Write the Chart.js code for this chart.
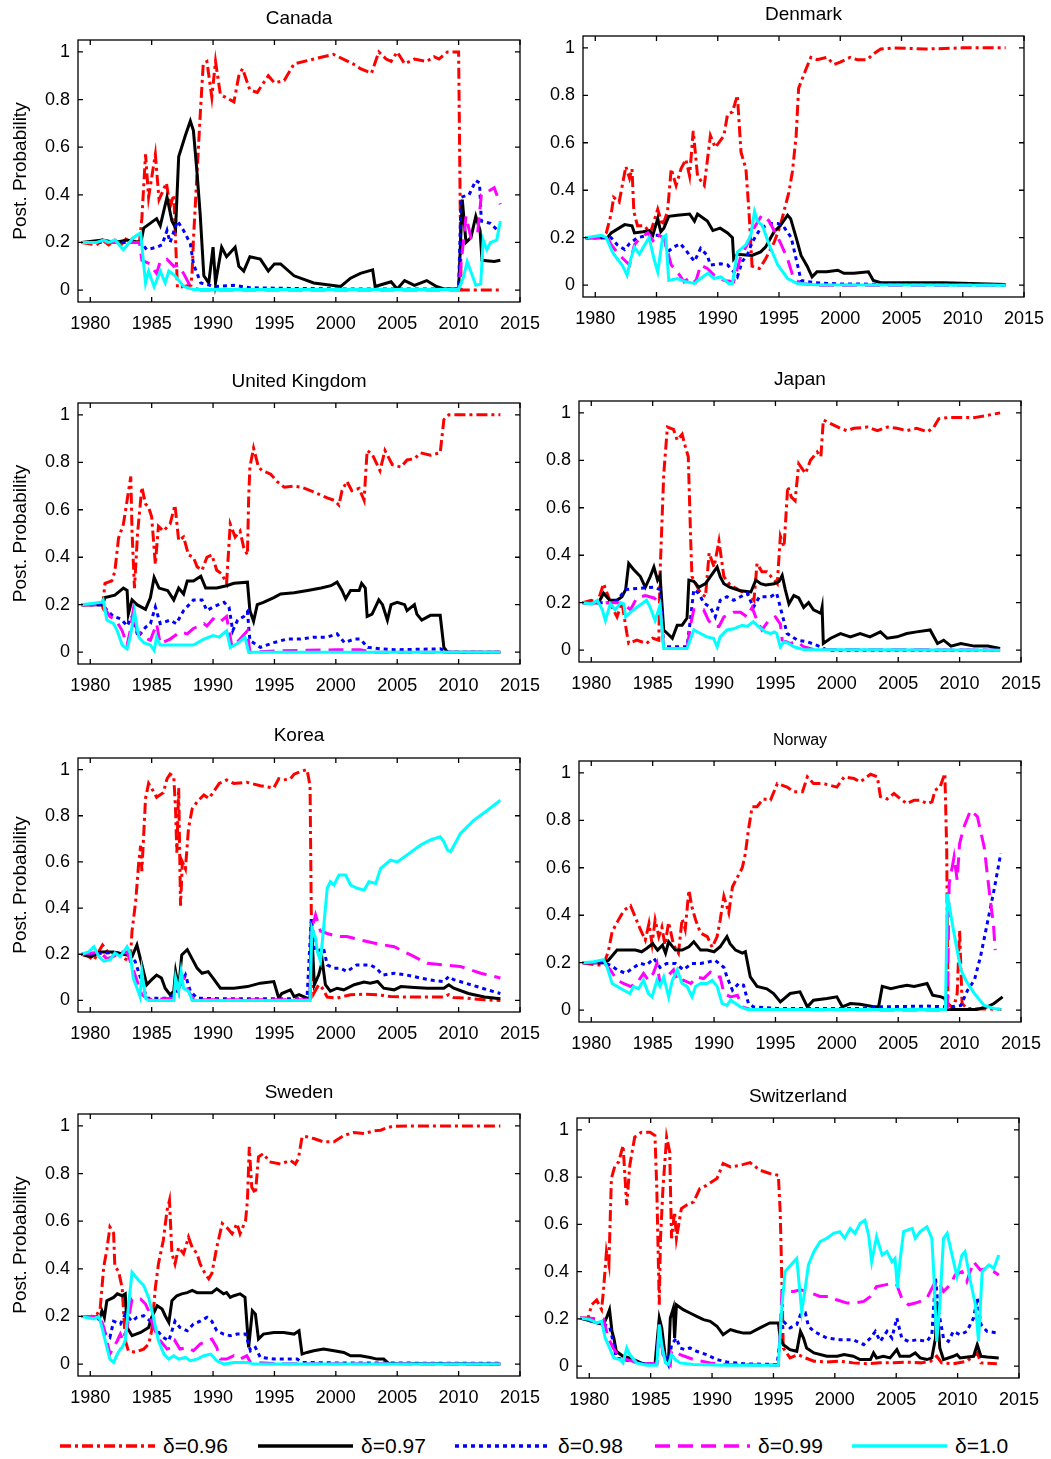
<!DOCTYPE html>
<html>
<head>
<meta charset="utf-8">
<script src="https://cdn.jsdelivr.net/npm/chart.js@4.4.1/dist/chart.umd.min.js"></script>
<style>
  body { margin: 0; background: #fff; width: 1051px; height: 1459px; position: relative; overflow: hidden;
         font-family: "Liberation Sans", Arial, sans-serif; }
  canvas.panel { position: absolute; }
  .leg { position: absolute; top: 1434px; height: 24px; display: flex; align-items: center; }
  .leg svg { margin-right: 8px; }
  .leg span { font-size: 21px; color: #000; }
</style>
</head>
<body>
<script>
// ---- axis ticks and series labels ----
var YEAR_TICKS = [1980, 1985, 1990, 1995, 2000, 2005, 2010, 2015];
var PROB_TICKS = [0, 0.2, 0.4, 0.6, 0.8, 1];
var DELTAS = ['δ=0.96', 'δ=0.97', 'δ=0.98', 'δ=0.99', 'δ=1.0'];

// ---- series, [year, posterior probability] ----
var canada96 = [[1979.3,0.2],[1980.5,0.19],[1981,0.21],[1981.5,0.19],[1982,0.21],[1982.5,0.19],[1983,0.22],[1983.5,0.21],[1984,0.2],[1984.2,0.3],[1984.5,0.57],[1984.75,0.39],[1985.3,0.57],[1985.6,0.38],[1986.2,0.45],[1986.5,0.35],[1986.8,0.4],[1987.1,0.01],[1988.2,0.02],[1988.3,0.08],[1988.4,0.21],[1988.97,0.75],[1989.2,0.95],[1989.5,0.96],[1989.9,0.81],[1990.2,0.96],[1990.6,0.82],[1991,0.81],[1991.7,0.79],[1992.1,0.9],[1992.4,0.93],[1993,0.84],[1993.6,0.83],[1994.5,0.9],[1995,0.87],[1995.8,0.88],[1996.6,0.95],[1998.2,0.97],[1999.8,0.99],[2000.6,0.97],[2001.4,0.95],[2002,0.93],[2002.9,0.91],[2003.5,1.0],[2004.1,0.97],[2004.5,0.96],[2005,1.0],[2005.6,0.95],[2006.4,0.97],[2007.4,0.96],[2008,0.98],[2008.4,0.97],[2009.1,1.0],[2010,1.0],[2010.2,0],[2013.4,0]];
var canada97 = [[1979.3,0.2],[1981,0.21],[1982,0.2],[1983,0.21],[1984,0.2],[1984.1,0.195],[1984.35,0.26],[1985.4,0.3],[1985.7,0.27],[1986.25,0.39],[1986.65,0.29],[1986.95,0.26],[1987.2,0.56],[1987.75,0.65],[1988.15,0.71],[1988.4,0.67],[1988.7,0.49],[1988.95,0.32],[1989.25,0.06],[1989.65,0.03],[1990,0.18],[1990.2,0.03],[1990.7,0.18],[1991.1,0.14],[1991.8,0.18],[1992.1,0.1],[1992.5,0.08],[1993,0.14],[1993.85,0.13],[1994.5,0.08],[1995,0.11],[1995.5,0.11],[1996.6,0.06],[1998.2,0.03],[2000.4,0.015],[2001.2,0.05],[2002,0.07],[2003,0.085],[2003.2,0.015],[2004.5,0.035],[2005,0.005],[2005.6,0.04],[2006.4,0.02],[2007.4,0.04],[2008.2,0.015],[2008.8,0.005],[2010,0.005],[2010.3,0.38],[2010.6,0.2],[2011,0.22],[2011.4,0.31],[2011.75,0.25],[2011.9,0.125],[2012.9,0.12],[2013.4,0.125]];
var canada98 = [[1979.3,0.2],[1984,0.2],[1984.2,0.195],[1984.6,0.17],[1985.4,0.18],[1985.85,0.19],[1986.25,0.25],[1986.5,0.2],[1987.1,0.29],[1987.6,0.25],[1988.15,0.195],[1988.4,0.11],[1989,0.03],[1990.1,0.015],[1991.7,0.02],[1993,0.01],[1995,0.008],[2000,0.005],[2010,0.005],[2010.2,0.39],[2010.85,0.4],[2011.4,0.46],[2011.7,0.45],[2011.85,0.29],[2012.6,0.28],[2013.2,0.25]];
var canada99 = [[1979.3,0.2],[1984,0.2],[1984.2,0.125],[1984.85,0.11],[1985.4,0.07],[1985.7,0.12],[1986.25,0.13],[1986.8,0.1],[1987.2,0.105],[1987.6,0.07],[1988.15,0.015],[1989,0],[2010,0],[2010.2,0.11],[2010.6,0.31],[2011,0.22],[2011.55,0.24],[2011.85,0.4],[2012.6,0.42],[2012.9,0.43],[2013.4,0.36]];
var canada100 = [[1979.3,0.2],[1980.5,0.2],[1981.1,0.21],[1981.5,0.2],[1982,0.21],[1982.7,0.17],[1983.5,0.22],[1984.1,0.24],[1984.5,0.03],[1984.75,0.08],[1985.2,0.014],[1985.7,0.08],[1986.1,0.03],[1986.4,0.08],[1986.9,0.06],[1987.6,0.015],[1988.4,0.003],[2010,0.003],[2010.4,0.055],[2010.7,0.12],[2011.4,0.02],[2011.8,0.025],[2012,0.21],[2012.3,0.17],[2012.6,0.2],[2013.1,0.21],[2013.4,0.29]];

var denmark96 = [[1979.2,0.2],[1980.5,0.2],[1980.9,0.22],[1981.3,0.3],[1981.5,0.37],[1981.95,0.35],[1982.5,0.5],[1982.8,0.45],[1983,0.49],[1983.15,0.31],[1983.45,0.25],[1984,0.25],[1984.5,0.22],[1985.1,0.32],[1985.5,0.25],[1985.9,0.31],[1986.2,0.49],[1986.6,0.42],[1987,0.49],[1987.4,0.53],[1987.7,0.46],[1988,0.65],[1988.35,0.46],[1988.9,0.42],[1989.4,0.63],[1989.8,0.58],[1990.5,0.63],[1990.8,0.72],[1991.2,0.73],[1991.6,0.8],[1991.9,0.56],[1992.3,0.49],[1992.55,0.31],[1992.8,0.08],[1993.4,0.07],[1993.9,0.11],[1994.6,0.18],[1995.1,0.25],[1995.8,0.39],[1996.1,0.48],[1996.4,0.63],[1996.6,0.83],[1997.2,0.91],[1997.6,0.96],[1998.1,0.95],[1998.9,0.96],[1999.5,0.93],[2000,0.94],[2000.8,0.96],[2001.4,0.95],[2002.2,0.95],[2002.6,0.97],[2003.3,0.995],[2004.4,1.0],[2007,0.995],[2010,1.0],[2013.5,1.0]];
var denmark97 = [[1979.2,0.2],[1981,0.2],[1981.3,0.22],[1982.4,0.255],[1983,0.25],[1983.2,0.22],[1983.9,0.225],[1984.4,0.23],[1984.7,0.21],[1985.1,0.28],[1985.35,0.225],[1985.6,0.24],[1986,0.29],[1986.7,0.295],[1987.7,0.3],[1988.1,0.27],[1988.35,0.3],[1989.15,0.27],[1989.6,0.23],[1990.2,0.24],[1990.8,0.22],[1991.2,0.2],[1991.3,0.11],[1991.6,0.13],[1992.8,0.125],[1993.5,0.14],[1993.9,0.16],[1994.6,0.225],[1995.1,0.25],[1995.7,0.295],[1995.95,0.28],[1996.4,0.2],[1996.8,0.125],[1997.3,0.08],[1997.7,0.035],[1998.1,0.056],[1998.9,0.056],[1999.8,0.063],[2000.3,0.05],[2001.1,0.05],[2002.3,0.056],[2002.7,0.02],[2003.3,0.01],[2008.5,0.01],[2013.5,0.003]];
var denmark98 = [[1979.2,0.2],[1981,0.2],[1981.3,0.2],[1981.8,0.17],[1982.4,0.15],[1982.8,0.175],[1983.45,0.2],[1984.3,0.21],[1985.1,0.21],[1985.6,0.2],[1985.9,0.14],[1986.4,0.16],[1986.95,0.175],[1987.5,0.14],[1988.1,0.1],[1988.6,0.155],[1989.15,0.125],[1989.4,0.085],[1990.25,0.09],[1990.8,0.085],[1991.3,0.056],[1991.6,0.035],[1992,0.1],[1992.4,0.125],[1992.8,0.18],[1993.5,0.24],[1994.3,0.26],[1994.9,0.26],[1995.4,0.245],[1996,0.2],[1996.4,0.11],[1996.8,0.02],[1997.9,0.01],[2000,0.005],[2013.5,0]];
var denmark99 = [[1979.2,0.2],[1981,0.2],[1981.3,0.17],[1982,0.125],[1982.4,0.105],[1982.8,0.085],[1983.2,0.17],[1983.7,0.2],[1984.3,0.22],[1984.8,0.18],[1985.2,0.21],[1985.6,0.2],[1986.2,0.085],[1986.7,0.056],[1987.25,0.014],[1987.8,0.035],[1988.2,0.014],[1988.6,0.085],[1989.15,0.07],[1989.7,0.042],[1990.5,0.02],[1991.3,0.014],[1991.9,0.125],[1992.4,0.17],[1992.95,0.24],[1993.6,0.295],[1994.2,0.27],[1995.1,0.18],[1995.7,0.11],[1996.2,0.028],[1996.8,0.007],[1998,0],[2013.5,0]];
var denmark100 = [[1979.2,0.2],[1980.5,0.21],[1980.9,0.2],[1981.4,0.14],[1981.8,0.11],[1982.2,0.085],[1982.6,0.042],[1982.9,0.11],[1983.2,0.16],[1983.6,0.13],[1984.1,0.175],[1984.4,0.2],[1984.8,0.11],[1985.1,0.056],[1985.5,0.2],[1985.75,0.21],[1986,0.02],[1986.7,0.028],[1987.4,0.014],[1988.1,0.007],[1988.6,0.028],[1989.2,0.05],[1989.7,0.028],[1990.25,0.035],[1990.9,0.007],[1991.2,0.007],[1991.6,0.14],[1992.3,0.17],[1992.7,0.21],[1993,0.31],[1993.25,0.27],[1993.65,0.25],[1994.2,0.17],[1994.9,0.085],[1995.7,0.028],[1996.5,0.007],[1998,0.002],[2013.5,0]];

var uk96 = [[1979.3,0.2],[1980.9,0.2],[1981,0.19],[1981.2,0.29],[1981.75,0.3],[1982,0.34],[1982.3,0.48],[1982.7,0.54],[1983,0.64],[1983.3,0.74],[1983.4,0.51],[1983.6,0.27],[1983.85,0.5],[1984.2,0.695],[1984.5,0.625],[1984.75,0.61],[1985,0.57],[1985.3,0.37],[1985.55,0.53],[1985.95,0.51],[1986.5,0.54],[1986.9,0.62],[1987.2,0.47],[1987.6,0.485],[1988,0.41],[1988.4,0.4],[1988.7,0.36],[1989.1,0.345],[1989.5,0.4],[1989.9,0.41],[1990.3,0.345],[1990.7,0.33],[1991.1,0.29],[1991.4,0.54],[1991.8,0.485],[1992.2,0.51],[1992.5,0.44],[1992.8,0.41],[1992.9,0.65],[1993,0.78],[1993.3,0.86],[1993.7,0.78],[1994,0.765],[1994.7,0.75],[1995.2,0.72],[1995.8,0.695],[1996.6,0.7],[1997.2,0.695],[1998.2,0.675],[1999.3,0.65],[1999.85,0.64],[2000.25,0.62],[2000.5,0.68],[2000.9,0.72],[2001.3,0.68],[2001.9,0.69],[2002.3,0.64],[2002.55,0.85],[2002.95,0.835],[2003.6,0.765],[2004,0.85],[2004.6,0.79],[2005.3,0.78],[2005.8,0.81],[2006.4,0.815],[2006.9,0.84],[2007.7,0.83],[2008.5,0.84],[2008.8,0.98],[2009.2,1.0],[2013.4,1.0]];
var uk97 = [[1979.3,0.2],[1981,0.2],[1981.2,0.23],[1982,0.24],[1982.7,0.27],[1983,0.26],[1983.1,0.16],[1983.4,0.22],[1983.8,0.2],[1984.5,0.18],[1984.9,0.23],[1985.2,0.315],[1985.6,0.27],[1986.3,0.26],[1986.8,0.22],[1987.2,0.27],[1987.6,0.245],[1987.9,0.3],[1988.4,0.3],[1989,0.32],[1989.4,0.27],[1990.3,0.27],[1991.1,0.28],[1991.7,0.29],[1992.8,0.295],[1993,0.175],[1993.3,0.13],[1993.6,0.2],[1994.1,0.21],[1994.95,0.23],[1995.5,0.245],[1996.6,0.25],[1997.7,0.26],[1998.8,0.27],[1999.6,0.28],[2000.1,0.295],[2000.5,0.26],[2000.8,0.225],[2001.2,0.26],[2001.9,0.26],[2002.1,0.29],[2002.4,0.27],[2002.55,0.15],[2002.95,0.16],[2003.5,0.22],[2003.8,0.2],[2004.2,0.135],[2004.5,0.2],[2005,0.21],[2005.6,0.2],[2005.8,0.175],[2006.4,0.2],[2006.6,0.16],[2007,0.135],[2007.7,0.155],[2008.5,0.155],[2008.8,0.02],[2009.1,0],[2013.4,0]];
var uk98 = [[1979.3,0.2],[1981,0.2],[1981.4,0.175],[1981.9,0.15],[1982.5,0.14],[1983,0.11],[1983.4,0.15],[1983.9,0.065],[1984.5,0.105],[1984.9,0.12],[1985.3,0.19],[1985.7,0.12],[1986.5,0.135],[1987,0.12],[1987.6,0.175],[1988.4,0.22],[1989.1,0.22],[1989.5,0.175],[1990,0.19],[1990.9,0.21],[1991.3,0.19],[1991.6,0.09],[1992,0.135],[1992.5,0.15],[1992.8,0.17],[1993,0.05],[1993.85,0.02],[1994.95,0.04],[1996,0.055],[1997.1,0.055],[1998.2,0.063],[1999.3,0.063],[2000.1,0.077],[2000.7,0.04],[2001.5,0.055],[2002,0.055],[2002.6,0.02],[2003.7,0.014],[2004.8,0.01],[2008.5,0.014],[2009.1,0],[2013.4,0]];
var uk99 = [[1979.3,0.2],[1981,0.2],[1981.6,0.15],[1982.1,0.135],[1982.6,0.09],[1983,0.03],[1983.25,0.09],[1983.5,0.175],[1983.8,0.09],[1984.35,0.063],[1984.9,0.05],[1985.4,0.12],[1985.7,0.035],[1986.5,0.055],[1987.3,0.085],[1987.9,0.077],[1988.4,0.1],[1989.25,0.12],[1989.5,0.11],[1990,0.14],[1990.5,0.125],[1991.1,0.15],[1991.55,0.02],[1992.2,0.055],[1992.8,0.09],[1993,0],[1995,0.005],[2000,0.01],[2002,0.01],[2003,0],[2013.4,0]];
var uk100 = [[1979.3,0.2],[1980.9,0.21],[1981.05,0.22],[1981.35,0.135],[1981.9,0.12],[1982.2,0.09],[1982.6,0.03],[1983,0.014],[1983.25,0.063],[1983.6,0.17],[1983.95,0.063],[1984.35,0.04],[1984.9,0.03],[1985.2,0.007],[1985.4,0.063],[1985.7,0.03],[1987,0.03],[1988.4,0.03],[1989.25,0.055],[1990,0.07],[1990.5,0.063],[1991.1,0.09],[1991.4,0.02],[1991.95,0.035],[1992.6,0.063],[1992.9,0],[2013.4,0]];

var japan96 = [[1979.3,0.2],[1980,0.21],[1980.5,0.2],[1981,0.28],[1981.4,0.225],[1981.7,0.18],[1982.1,0.14],[1982.5,0.2],[1982.9,0.07],[1983.05,0.028],[1983.7,0.042],[1984.5,0.028],[1985,0.05],[1985.5,0.042],[1985.6,0.32],[1985.9,0.74],[1986.2,0.94],[1986.7,0.93],[1987,0.885],[1987.4,0.91],[1987.65,0.86],[1987.9,0.815],[1988.1,0.46],[1988.2,0.31],[1988.9,0.24],[1989.3,0.225],[1989.6,0.41],[1990,0.35],[1990.4,0.46],[1990.8,0.31],[1991.3,0.275],[1992.15,0.25],[1993,0.23],[1993.25,0.21],[1993.5,0.365],[1993.9,0.33],[1994.3,0.33],[1994.9,0.295],[1995.15,0.28],[1995.4,0.48],[1995.7,0.435],[1996,0.69],[1996.3,0.645],[1996.6,0.63],[1996.9,0.785],[1997.45,0.745],[1997.85,0.8],[1998.4,0.835],[1998.7,0.815],[1998.9,0.97],[1999.5,0.955],[2000.3,0.935],[2000.8,0.925],[2001.4,0.935],[2002.5,0.94],[2003.3,0.925],[2004.1,0.94],[2004.9,0.935],[2005.7,0.925],[2006.5,0.935],[2007.4,0.92],[2007.9,0.94],[2008.3,0.975],[2009,0.98],[2010.1,0.98],[2011.2,0.98],[2012.3,0.99],[2013.3,1.0]];
var japan97 = [[1979.3,0.2],[1980.6,0.2],[1981,0.24],[1981.5,0.21],[1982.1,0.21],[1982.5,0.225],[1982.8,0.255],[1983.05,0.365],[1983.45,0.34],[1984,0.31],[1984.4,0.265],[1984.8,0.31],[1985.1,0.35],[1985.4,0.295],[1985.6,0.315],[1985.9,0.085],[1986.2,0.07],[1986.6,0.05],[1987,0.105],[1987.4,0.105],[1987.8,0.135],[1987.95,0.295],[1988.35,0.29],[1988.75,0.265],[1989.3,0.28],[1989.7,0.31],[1990.25,0.35],[1990.5,0.31],[1990.8,0.28],[1991.3,0.265],[1992.15,0.25],[1993,0.245],[1993.4,0.295],[1993.8,0.28],[1994.2,0.275],[1994.9,0.28],[1995.3,0.29],[1995.55,0.315],[1995.8,0.255],[1996.1,0.195],[1996.5,0.23],[1996.9,0.22],[1997.3,0.18],[1997.7,0.2],[1998.1,0.17],[1998.7,0.155],[1998.8,0.18],[1998.9,0.028],[1999.5,0.05],[2000.3,0.07],[2001.1,0.056],[2001.9,0.07],[2002.7,0.056],[2003.55,0.077],[2004.1,0.05],[2004.9,0.056],[2005.7,0.07],[2006.5,0.077],[2007.6,0.085],[2008.2,0.028],[2008.7,0.042],[2009.3,0.017],[2010.1,0.028],[2011.2,0.017],[2012.3,0.017],[2013.3,0.007]];
var japan98 = [[1979.3,0.2],[1981.5,0.2],[1982.1,0.21],[1982.8,0.255],[1983.7,0.26],[1985.1,0.265],[1985.6,0.255],[1985.9,0.014],[1987.8,0.014],[1988.1,0.14],[1988.35,0.255],[1988.75,0.24],[1989.15,0.2],[1989.7,0.18],[1990.1,0.14],[1990.5,0.21],[1991.05,0.225],[1991.6,0.21],[1992.15,0.225],[1992.7,0.24],[1993.2,0.18],[1993.7,0.225],[1994.6,0.225],[1995.1,0.24],[1995.4,0.18],[1995.95,0.07],[1996.8,0.042],[1997.6,0.035],[1998.7,0.014],[1999.2,0],[2013.3,0]];
var japan99 = [[1979.3,0.2],[1981.5,0.2],[1982.1,0.2],[1982.6,0.195],[1983.2,0.17],[1983.7,0.22],[1984.4,0.23],[1985.1,0.22],[1985.6,0.2],[1985.9,0.007],[1987.8,0.007],[1988.1,0.11],[1988.35,0.17],[1989.15,0.17],[1989.55,0.125],[1990,0.1],[1990.4,0.1],[1990.8,0.14],[1991.6,0.16],[1992.15,0.16],[1992.7,0.14],[1993.1,0.18],[1993.5,0.125],[1993.9,0.085],[1994.45,0.125],[1995,0.14],[1995.4,0.11],[1995.55,0.042],[1996.2,0.028],[1996.8,0.035],[1997.3,0.014],[1998.1,0.003],[2013.3,0]];
var japan100 = [[1979.3,0.2],[1980.05,0.195],[1980.5,0.21],[1980.9,0.17],[1981.15,0.125],[1981.55,0.195],[1981.95,0.17],[1982.4,0.2],[1982.65,0.195],[1982.8,0.14],[1983.2,0.16],[1983.7,0.18],[1984.5,0.21],[1984.8,0.18],[1985.2,0.125],[1985.6,0.19],[1985.9,0.007],[1987.8,0.007],[1988.1,0.05],[1988.35,0.085],[1988.9,0.07],[1989.4,0.056],[1989.95,0.05],[1990.25,0.014],[1990.5,0.056],[1991.05,0.085],[1991.6,0.09],[1992.3,0.105],[1992.7,0.1],[1993.2,0.12],[1993.6,0.1],[1994.2,0.077],[1994.6,0.07],[1994.9,0.077],[1995.1,0.07],[1995.4,0.014],[1995.7,0.035],[1996.1,0.028],[1996.5,0.014],[1997.3,0.003],[2013.3,0]];

var korea96 = [[1979.3,0.2],[1979.85,0.19],[1980.3,0.175],[1981,0.24],[1981.5,0.205],[1982.3,0.205],[1982.85,0.18],[1983.25,0.17],[1983.4,0.3],[1983.7,0.43],[1983.95,0.6],[1984.1,0.67],[1984.2,0.56],[1984.5,0.875],[1984.75,0.94],[1985.2,0.9],[1985.4,0.88],[1985.95,0.9],[1986.25,0.96],[1986.5,0.98],[1986.8,0.97],[1986.95,0.82],[1987.05,0.64],[1987.2,0.92],[1987.35,0.41],[1987.5,0.6],[1987.75,0.57],[1988,0.745],[1988.3,0.83],[1988.7,0.86],[1989.25,0.89],[1989.65,0.875],[1990,0.9],[1990.5,0.94],[1991.1,0.955],[1991.7,0.94],[1992.75,0.945],[1993.85,0.93],[1994.95,0.92],[1995.35,0.96],[1995.75,0.955],[1996.3,0.96],[1996.6,0.98],[1997.1,0.99],[1997.65,1.0],[1997.9,0.93],[1998,0.385],[1998.2,0.03],[1998.6,0.068],[1998.9,0.053],[1999.3,0.015],[2000.1,0.01],[2001.2,0.025],[2002.3,0.027],[2003.4,0.025],[2004.45,0.017],[2005.5,0.015],[2008.8,0.015],[2009.2,0.025],[2009.6,0.013],[2010.7,0.01],[2012,0.003],[2013.4,0]];
var korea97 = [[1979.3,0.2],[1980.1,0.19],[1980.8,0.21],[1981.9,0.21],[1983,0.197],[1983.4,0.19],[1983.8,0.24],[1984.2,0.155],[1984.6,0.068],[1985,0.09],[1985.4,0.11],[1985.8,0.097],[1986.1,0.053],[1986.5,0.025],[1986.8,0.04],[1986.95,0.125],[1987.2,0.053],[1987.45,0.197],[1987.9,0.22],[1988.3,0.18],[1988.7,0.14],[1989.1,0.118],[1989.6,0.125],[1990,0.097],[1990.6,0.053],[1991.7,0.053],[1992.8,0.06],[1993.85,0.075],[1994.95,0.082],[1995.35,0.01],[1995.6,0.03],[1996.3,0.046],[1996.6,0.017],[1997,0.025],[1997.65,0.01],[1997.9,0.01],[1998,0.34],[1998.25,0.068],[1998.6,0.11],[1998.9,0.17],[1999.15,0.068],[1999.55,0.04],[2000.1,0.053],[2000.65,0.046],[2001.5,0.068],[2002.3,0.08],[2002.8,0.075],[2003.4,0.082],[2003.9,0.053],[2004.75,0.046],[2005.3,0.06],[2006.4,0.056],[2007.45,0.053],[2008.8,0.053],[2009.2,0.068],[2009.6,0.053],[2010.8,0.03],[2012.1,0.015],[2013.4,0.007]];
var korea98 = [[1979.3,0.2],[1983,0.21],[1983.65,0.17],[1984.1,0.097],[1984.6,0.01],[1986.4,0.01],[1987.1,0.04],[1987.75,0.11],[1988.15,0.04],[1988.7,0.01],[1991.1,0.007],[1997.65,0.007],[1998,0.355],[1998.35,0.21],[1999,0.226],[1999.3,0.154],[1999.85,0.14],[2000.4,0.14],[2000.9,0.125],[2001.7,0.154],[2002.8,0.154],[2003.3,0.14],[2003.8,0.11],[2004.75,0.118],[2005.8,0.11],[2006.9,0.097],[2008,0.086],[2008.8,0.082],[2009.2,0.104],[2009.6,0.09],[2011,0.068],[2012.35,0.046],[2013.4,0.03]];
var korea99 = [[1979.3,0.2],[1980.8,0.21],[1981.35,0.18],[1982.2,0.197],[1983,0.21],[1983.65,0.11],[1984.2,0.025],[1984.75,0.003],[1986.8,0.01],[1987.6,0.097],[1988,0.04],[1988.4,0.003],[1997.9,0.003],[1998,0.3],[1998.35,0.37],[1998.75,0.3],[1999.3,0.29],[2000.1,0.277],[2000.9,0.277],[2002,0.262],[2003.4,0.245],[2004.75,0.233],[2006.1,0.197],[2007.45,0.161],[2008.8,0.154],[2010.15,0.147],[2011.8,0.118],[2013.4,0.097]];
var korea100 = [[1979.3,0.2],[1979.85,0.21],[1980.3,0.233],[1980.7,0.19],[1981.1,0.17],[1981.6,0.176],[1982,0.205],[1982.45,0.19],[1983,0.233],[1983.25,0.205],[1983.5,0.097],[1983.9,0.04],[1984.05,0.017],[1984.2,0.125],[1984.5,0.01],[1984.75,0],[1986.8,0],[1986.95,0.097],[1987.2,0.04],[1987.4,0.125],[1987.6,0.053],[1988,0.04],[1988.3,0],[1997.9,0],[1998.05,0.313],[1998.35,0.27],[1998.5,0.21],[1998.75,0.17],[1999,0.313],[1999.3,0.486],[1999.55,0.514],[1999.85,0.5],[2000.25,0.543],[2000.8,0.543],[2001.2,0.5],[2001.75,0.486],[2002.3,0.478],[2002.7,0.514],[2003.25,0.507],[2003.65,0.572],[2004.45,0.608],[2005,0.6],[2005.8,0.63],[2006.9,0.673],[2007.7,0.695],[2008.5,0.709],[2008.8,0.687],[2009.1,0.651],[2009.35,0.644],[2010.15,0.723],[2011.25,0.781],[2012.35,0.824],[2013.4,0.867]];

var norway96 = [[1979.3,0.2],[1980.5,0.19],[1981,0.19],[1981.4,0.25],[1981.7,0.33],[1982.1,0.37],[1982.65,0.42],[1983.2,0.44],[1983.6,0.39],[1984,0.34],[1984.4,0.295],[1984.7,0.365],[1984.95,0.28],[1985.2,0.38],[1985.5,0.31],[1985.75,0.35],[1986,0.275],[1986.3,0.37],[1986.7,0.275],[1987.1,0.24],[1987.4,0.385],[1987.65,0.34],[1987.95,0.505],[1988.2,0.435],[1988.5,0.38],[1988.9,0.325],[1989.45,0.31],[1989.85,0.265],[1990.25,0.31],[1990.5,0.38],[1990.8,0.48],[1991.2,0.41],[1991.5,0.52],[1991.9,0.56],[1992.3,0.6],[1992.55,0.66],[1992.8,0.76],[1993.1,0.857],[1993.5,0.857],[1994,0.89],[1994.6,0.885],[1995.15,0.955],[1995.95,0.94],[1996.5,0.92],[1997.2,0.92],[1997.6,0.983],[1998.1,0.955],[1998.9,0.955],[2000,0.94],[2000.6,0.983],[2001.4,0.976],[2001.9,0.962],[2002.75,0.994],[2003.3,0.983],[2003.55,0.9],[2004.1,0.89],[2004.65,0.913],[2005.2,0.89],[2005.7,0.87],[2006.3,0.885],[2006.8,0.885],[2007.35,0.87],[2007.75,0.878],[2008,0.927],[2008.4,0.94],[2008.8,0.997],[2008.95,0.674],[2009.05,0.028],[2009.5,0.007],[2009.8,0.07],[2010,0.337],[2010.2,0.028],[2010.6,0.007],[2013.4,0.003]];
var norway97 = [[1979.3,0.2],[1981,0.2],[1981.4,0.21],[1982.1,0.253],[1983.6,0.253],[1984.1,0.246],[1984.5,0.26],[1985,0.28],[1985.4,0.253],[1985.8,0.274],[1986.05,0.24],[1986.3,0.288],[1986.85,0.253],[1987.4,0.253],[1987.95,0.267],[1988.35,0.288],[1988.9,0.253],[1989.45,0.253],[1990,0.246],[1990.5,0.267],[1991.05,0.31],[1991.3,0.28],[1991.75,0.253],[1992.3,0.24],[1992.55,0.246],[1992.95,0.14],[1993.5,0.1],[1994.3,0.09],[1994.85,0.07],[1995.4,0.035],[1996.2,0.07],[1997,0.077],[1997.6,0.014],[1998.1,0.042],[1999.2,0.049],[2000,0.056],[2000.45,0.014],[2001.1,0.028],[2001.9,0.025],[2003,0.014],[2003.4,0.014],[2003.7,0.1],[2004.4,0.09],[2005.2,0.1],[2005.7,0.105],[2006.3,0.1],[2007.35,0.112],[2007.8,0.063],[2008.5,0.056],[2008.8,0.049],[2009,0.003],[2011.4,0.003],[2012.25,0.014],[2012.8,0.028],[2013.5,0.056]];
var norway98 = [[1979.3,0.2],[1981,0.2],[1981.55,0.19],[1982.1,0.17],[1982.8,0.155],[1983.45,0.18],[1984,0.197],[1984.5,0.19],[1985.1,0.218],[1985.6,0.18],[1986.15,0.197],[1986.85,0.197],[1987.5,0.17],[1988.2,0.197],[1988.9,0.197],[1989.6,0.204],[1990.1,0.21],[1990.8,0.18],[1991.05,0.14],[1991.5,0.084],[1992,0.112],[1992.4,0.105],[1992.8,0.028],[1993.2,0.014],[1995.1,0.007],[2001.9,0.007],[2003.55,0.014],[2007.35,0.017],[2008.7,0.014],[2009.3,0.014],[2010.1,0.02],[2010.65,0.084],[2011.2,0.126],[2011.7,0.225],[2012.25,0.365],[2012.8,0.505],[2013.35,0.66]];
var norway99 = [[1979.3,0.2],[1981,0.2],[1981.55,0.17],[1982.1,0.126],[1982.65,0.112],[1983.2,0.1],[1983.7,0.112],[1984.25,0.155],[1984.65,0.126],[1985.05,0.155],[1985.35,0.197],[1985.6,0.112],[1986.15,0.14],[1986.7,0.17],[1987.1,0.112],[1987.5,0.126],[1988.1,0.112],[1988.6,0.14],[1989.15,0.133],[1989.7,0.16],[1990.25,0.14],[1990.5,0.14],[1990.8,0.07],[1991.35,0.056],[1991.9,0.063],[1992.3,0.014],[1992.95,0.003],[2009,0],[2009.15,0.534],[2009.55,0.646],[2009.8,0.548],[2010,0.702],[2010.35,0.772],[2010.9,0.843],[2011.45,0.815],[2012,0.688],[2012.5,0.463],[2012.75,0.365],[2012.9,0.253]];
var norway100 = [[1979.3,0.2],[1980.2,0.204],[1981,0.213],[1981.3,0.18],[1981.7,0.112],[1982.1,0.1],[1982.65,0.084],[1983.15,0.07],[1983.45,0.1],[1983.85,0.09],[1984.25,0.126],[1984.65,0.07],[1984.95,0.056],[1985.35,0.126],[1985.6,0.1],[1985.9,0.14],[1986.3,0.056],[1986.6,0.126],[1987,0.17],[1987.4,0.112],[1987.8,0.1],[1988.2,0.056],[1988.5,0.1],[1988.9,0.112],[1989.45,0.112],[1989.85,0.126],[1990.25,0.1],[1990.65,0.028],[1991.05,0.02],[1991.35,0.042],[1991.75,0.028],[1992.15,0.014],[1992.7,0.003],[2008.85,0.003],[2009,0.49],[2009.4,0.365],[2009.8,0.253],[2010.1,0.17],[2010.5,0.126],[2011.2,0.07],[2012,0.02],[2012.8,0.007],[2013.35,0.003]];

var sweden96 = [[1979.3,0.2],[1980.1,0.2],[1980.55,0.21],[1980.8,0.23],[1981.1,0.41],[1981.35,0.48],[1981.6,0.575],[1981.9,0.55],[1982,0.41],[1982.3,0.39],[1982.6,0.32],[1982.85,0.1],[1983.1,0.056],[1983.65,0.05],[1984.35,0.063],[1984.75,0.084],[1985,0.14],[1985.3,0.32],[1985.55,0.42],[1985.95,0.52],[1986.25,0.645],[1986.45,0.687],[1986.65,0.463],[1986.9,0.42],[1987.2,0.49],[1987.6,0.463],[1988,0.533],[1988.3,0.49],[1988.7,0.463],[1988.95,0.42],[1989.35,0.38],[1989.65,0.358],[1989.9,0.38],[1990.3,0.49],[1990.75,0.59],[1991.1,0.575],[1991.55,0.547],[1991.95,0.59],[1992.2,0.547],[1992.65,0.603],[1992.8,0.687],[1992.95,0.912],[1993.15,0.743],[1993.45,0.715],[1993.7,0.87],[1994.1,0.884],[1994.6,0.849],[1995.5,0.84],[1996.3,0.855],[1996.7,0.84],[1996.95,0.863],[1997.25,0.954],[1997.65,0.954],[1998.2,0.947],[1999,0.933],[1999.85,0.933],[2000.65,0.96],[2001.45,0.972],[2002.3,0.968],[2003.1,0.979],[2003.65,0.982],[2004.2,0.993],[2004.7,0.999],[2007.4,1.0],[2013.4,1.0]];
var sweden97 = [[1979.3,0.2],[1980.8,0.2],[1980.95,0.224],[1981.15,0.196],[1981.35,0.266],[1981.9,0.28],[1982.2,0.295],[1982.6,0.287],[1982.85,0.295],[1983,0.154],[1983.4,0.119],[1984.1,0.133],[1984.75,0.154],[1985,0.196],[1985.45,0.245],[1985.85,0.231],[1986.1,0.203],[1986.4,0.175],[1986.65,0.266],[1987.05,0.287],[1987.45,0.295],[1987.9,0.3],[1988.3,0.309],[1988.7,0.3],[1989.9,0.3],[1990.3,0.316],[1990.85,0.295],[1991.1,0.3],[1991.4,0.28],[1991.7,0.287],[1992.2,0.295],[1992.6,0.28],[1992.9,0.07],[1993.2,0.224],[1993.45,0.21],[1993.7,0.105],[1994.1,0.126],[1994.95,0.133],[1995.75,0.133],[1996.6,0.126],[1997,0.14],[1997.25,0.042],[1997.65,0.049],[1998.2,0.056],[1999,0.063],[1999.85,0.056],[2000.65,0.049],[2001.2,0.035],[2002,0.035],[2002.8,0.028],[2003.35,0.021],[2003.9,0.021],[2004.3,0.003],[2013.4,0]];
var sweden98 = [[1979.3,0.2],[1980.55,0.2],[1980.8,0.18],[1981.25,0.126],[1981.6,0.112],[1981.9,0.18],[1982.45,0.168],[1982.85,0.21],[1983.4,0.18],[1983.8,0.196],[1984.35,0.203],[1984.9,0.18],[1985.45,0.14],[1985.95,0.112],[1986.4,0.098],[1986.9,0.18],[1987.3,0.154],[1987.9,0.14],[1988.4,0.168],[1988.95,0.18],[1989.5,0.196],[1989.9,0.18],[1990.3,0.14],[1990.85,0.126],[1991.4,0.119],[1991.95,0.126],[1992.65,0.126],[1993.05,0.056],[1993.45,0.07],[1993.85,0.028],[1994.95,0.021],[1996,0.021],[1996.85,0.021],[1997.25,0.007],[2000,0.005],[2013.4,0.003]];
var sweden99 = [[1979.3,0.2],[1980.8,0.2],[1981.1,0.154],[1981.35,0.098],[1981.6,0.042],[1981.9,0.07],[1982.2,0.098],[1982.45,0.126],[1982.7,0.098],[1983,0.154],[1983.4,0.273],[1984.1,0.273],[1984.5,0.252],[1984.75,0.224],[1985.15,0.154],[1985.7,0.098],[1986.25,0.063],[1986.65,0.07],[1986.9,0.098],[1987.3,0.063],[1987.9,0.07],[1988.4,0.056],[1988.95,0.084],[1989.5,0.098],[1989.9,0.105],[1990.3,0.07],[1990.6,0.021],[1991.1,0.021],[1991.7,0.035],[1992.2,0.021],[1992.75,0.035],[1993.05,0.007],[1995,0.002],[2013.4,0]];
var sweden100 = [[1979.3,0.2],[1979.7,0.196],[1980.3,0.19],[1980.7,0.2],[1980.95,0.154],[1981.35,0.07],[1981.6,0.021],[1981.9,0.007],[1982.2,0.042],[1982.45,0.063],[1982.6,0.07],[1982.85,0.098],[1983.1,0.238],[1983.4,0.386],[1983.95,0.351],[1984.35,0.33],[1984.75,0.28],[1985.15,0.196],[1985.55,0.098],[1986,0.042],[1986.4,0.021],[1986.8,0.035],[1987.2,0.021],[1987.75,0.028],[1988.15,0.014],[1988.7,0.021],[1989.25,0.035],[1989.8,0.042],[1990.3,0.014],[1990.9,0],[1991.7,0.007],[1992.8,0.007],[1993.3,0],[2013.4,0]];

var swiss96 = [[1979.25,0.204],[1979.9,0.204],[1980.2,0.26],[1980.6,0.28],[1981,0.24],[1981.15,0.316],[1981.4,0.485],[1981.6,0.43],[1981.8,0.794],[1982.1,0.85],[1982.4,0.864],[1982.75,0.934],[1983.05,0.681],[1983.3,0.85],[1983.7,0.969],[1984.25,0.99],[1984.95,0.99],[1985.35,0.976],[1985.5,0.751],[1985.7,0.26],[1985.8,0.541],[1986,0.751],[1986.3,0.969],[1986.55,0.906],[1986.7,0.541],[1986.95,0.653],[1987.1,0.541],[1987.5,0.667],[1987.9,0.681],[1988.5,0.695],[1989,0.751],[1989.55,0.765],[1990.4,0.794],[1990.9,0.857],[1991.5,0.843],[1992.3,0.85],[1993.1,0.861],[1993.9,0.829],[1994.7,0.815],[1995.4,0.808],[1995.55,0.653],[1995.7,0.33],[1995.8,0.077],[1996.35,0.035],[1997,0.049],[1997.6,0.035],[1998.3,0.021],[1999.35,0.018],[2000.4,0.021],[2001.5,0.014],[2002.6,0.01],[2003.7,0.014],[2004.8,0.014],[2005.9,0.017],[2007,0.014],[2007.8,0.021],[2008.3,0.042],[2008.7,0.014],[2009.65,0.01],[2010.75,0.021],[2011.6,0.056],[2011.9,0.014],[2013.2,0.01]];
var swiss97 = [[1979.25,0.204],[1981.15,0.176],[1981.4,0.204],[1981.65,0.239],[1981.85,0.147],[1982,0.119],[1982.2,0.063],[1982.75,0.042],[1983.3,0.035],[1984.4,0.01],[1985.35,0.007],[1985.7,0.204],[1985.9,0.162],[1986.2,0.035],[1986.45,0.021],[1986.6,0.204],[1986.85,0.246],[1986.95,0.119],[1987.1,0.26],[1987.65,0.239],[1988.2,0.225],[1988.75,0.211],[1989.3,0.197],[1989.85,0.19],[1990.4,0.169],[1990.9,0.133],[1991.5,0.155],[1992,0.147],[1992.55,0.14],[1993.1,0.14],[1993.9,0.162],[1994.7,0.183],[1995.4,0.183],[1995.55,0.119],[1995.8,0.091],[1996.35,0.07],[1996.9,0.063],[1997.2,0.147],[1997.45,0.119],[1997.7,0.077],[1998.3,0.056],[1999.35,0.042],[2000.2,0.042],[2000.75,0.049],[2001.5,0.042],[2002.05,0.028],[2002.9,0.028],[2003.15,0.056],[2003.4,0.035],[2003.95,0.042],[2004.5,0.035],[2005.05,0.07],[2005.3,0.042],[2006.1,0.042],[2006.55,0.056],[2006.95,0.035],[2007.5,0.028],[2007.9,0.035],[2008.2,0.119],[2008.3,0.274],[2008.55,0.077],[2008.85,0.028],[2009.65,0.042],[2009.95,0.049],[2010.2,0.035],[2011.3,0.042],[2011.6,0.091],[2011.9,0.042],[2012.4,0.039],[2013.35,0.035]];
var swiss98 = [[1979.25,0.204],[1981.15,0.176],[1981.65,0.169],[1982,0.091],[1982.2,0.035],[1984.4,0.01],[1985.5,0.01],[1985.7,0.176],[1986,0.063],[1986.45,0.007],[1986.7,0.091],[1987.1,0.119],[1987.4,0.077],[1987.8,0.07],[1988.2,0.077],[1988.75,0.063],[1989.55,0.049],[1990.4,0.028],[1991.2,0.018],[1992.55,0.01],[1995.3,0.007],[1995.55,0.119],[1995.8,0.19],[1996.35,0.162],[1996.9,0.176],[1997.2,0.218],[1997.6,0.225],[1997.85,0.169],[1998.3,0.147],[1999.35,0.119],[2000.4,0.112],[2001.5,0.112],[2002.35,0.091],[2002.9,0.119],[2003.3,0.147],[2003.7,0.105],[2004.25,0.147],[2004.65,0.119],[2005.05,0.204],[2005.45,0.119],[2006,0.105],[2006.7,0.112],[2007.5,0.105],[2007.9,0.133],[2008.2,0.372],[2008.45,0.232],[2008.85,0.119],[2009.25,0.105],[2009.65,0.147],[2010.2,0.133],[2010.75,0.147],[2011.3,0.204],[2011.6,0.288],[2011.9,0.176],[2012.4,0.147],[2013.35,0.14]];
var swiss99 = [[1979.25,0.204],[1981.15,0.2],[1981.55,0.119],[1981.95,0.077],[1982.5,0.035],[1984.4,0.01],[1985.5,0.01],[1985.7,0.176],[1986,0.049],[1986.6,0.007],[1986.7,0.063],[1987,0.063],[1987.4,0.049],[1988.5,0.028],[1989.85,0.014],[1991.2,0.007],[1995.4,0.004],[1995.7,0.316],[1996.65,0.316],[1997.2,0.323],[1997.7,0.316],[1998.8,0.295],[1999.6,0.295],[2000.15,0.281],[2001,0.267],[2001.5,0.267],[2002.35,0.274],[2002.9,0.295],[2003.4,0.337],[2004.1,0.344],[2004.8,0.351],[2005.05,0.344],[2005.45,0.288],[2006,0.26],[2006.55,0.267],[2006.95,0.274],[2007.5,0.288],[2008.05,0.344],[2008.45,0.358],[2008.85,0.316],[2009.4,0.344],[2009.8,0.386],[2010.35,0.4],[2010.75,0.358],[2011.3,0.442],[2011.85,0.407],[2012.4,0.414],[2012.95,0.4],[2013.35,0.386]];
var swiss100 = [[1979.25,0.204],[1980.05,0.197],[1980.6,0.183],[1981,0.19],[1981.3,0.119],[1981.65,0.077],[1982,0.035],[1982.5,0.028],[1982.75,0.014],[1983.05,0.077],[1983.3,0.049],[1983.85,0.014],[1984.7,0.004],[1985.5,0.004],[1985.7,0.176],[1985.9,0.091],[1986.2,0.014],[1986.45,0.007],[1986.7,0.049],[1987,0.028],[1987.4,0.014],[1988.5,0.007],[1991.2,0.004],[1995.4,0.004],[1995.7,0.26],[1995.95,0.4],[1996.65,0.442],[1996.9,0.456],[1997.2,0.288],[1997.3,0.232],[1997.55,0.316],[1997.85,0.428],[1998.3,0.485],[1998.8,0.527],[1999.35,0.541],[1999.9,0.562],[2000.4,0.569],[2000.8,0.541],[2001.25,0.583],[2001.65,0.562],[2002.05,0.604],[2002.45,0.618],[2002.75,0.555],[2003,0.442],[2003.4,0.548],[2003.85,0.47],[2004.25,0.485],[2004.65,0.442],[2004.9,0.456],[2005.1,0.33],[2005.3,0.442],[2005.6,0.569],[2006.3,0.583],[2006.55,0.541],[2006.95,0.569],[2007.5,0.59],[2007.9,0.541],[2008.05,0.4],[2008.3,0.105],[2008.55,0.26],[2008.85,0.541],[2009.15,0.562],[2009.55,0.47],[2009.95,0.379],[2010.35,0.47],[2010.6,0.485],[2011.05,0.358],[2011.45,0.26],[2011.7,0.105],[2012,0.4],[2012.55,0.428],[2012.95,0.414],[2013.35,0.47]];

// ---- styles ----
var COLORS = ['#ff0000', '#000000', '#0000ff', '#ff00ff', '#00ffff'];
var DASHES = [[11, 4, 3, 4], [], [4, 4], [15, 8], []];
var DRAW_ORDER = [5, 4, 3, 2, 1];   // cyan on top
var FONT = '"Liberation Sans", Arial, sans-serif';

Chart.defaults.font.family = FONT;
Chart.defaults.color = '#000';

// plot box in page pixels: [left, top, right, bottom], title gap above box
var panels = [
  { title: 'Canada',         size: 19, gap: 21, ylab: true,  box: [78, 40, 520, 302],    series: [canada96, canada97, canada98, canada99, canada100] },
  { title: 'Denmark',        size: 19, gap: 21, ylab: false, box: [583, 36, 1024, 297],  series: [denmark96, denmark97, denmark98, denmark99, denmark100] },
  { title: 'United Kingdom', size: 19, gap: 21, ylab: true,  box: [78, 403, 520, 664],   series: [uk96, uk97, uk98, uk99, uk100] },
  { title: 'Japan',          size: 19, gap: 21, ylab: false, box: [579, 401, 1021, 662], series: [japan96, japan97, japan98, japan99, japan100] },
  { title: 'Korea',          size: 19, gap: 22, ylab: true,  box: [78, 758, 520, 1012],  series: [korea96, korea97, korea98, korea99, korea100] },
  { title: 'Norway',         size: 16, gap: 20, ylab: false, box: [579, 761, 1021, 1022],series: [norway96, norway97, norway98, norway99, norway100] },
  { title: 'Sweden',         size: 19, gap: 21, ylab: true,  box: [78, 1114, 520, 1376], series: [sweden96, sweden97, sweden98, sweden99, sweden100] },
  { title: 'Switzerland',    size: 19, gap: 21, ylab: false, box: [577, 1118, 1019, 1378], series: [swiss96, swiss97, swiss98, swiss99, swiss100] }
];

var TOPH = 36, XH = 34, RPAD = 36;

// frame with inward ticks on all four sides (MATLAB style)
var framePlugin = {
  id: 'frame',
  afterDatasetsDraw: function (chart) {
    var ctx = chart.ctx, a = chart.chartArea, x = chart.scales.x, y = chart.scales.y;
    ctx.save();
    ctx.strokeStyle = '#000';
    ctx.lineWidth = 1.3;
    ctx.strokeRect(a.left, a.top, a.right - a.left, a.bottom - a.top);
    ctx.beginPath();
    x.ticks.forEach(function (t) {
      var px = x.getPixelForValue(t.value);
      ctx.moveTo(px, a.bottom); ctx.lineTo(px, a.bottom - 5);
      ctx.moveTo(px, a.top);    ctx.lineTo(px, a.top + 5);
    });
    y.ticks.forEach(function (t) {
      var py = y.getPixelForValue(t.value);
      ctx.moveTo(a.left, py);  ctx.lineTo(a.left + 5, py);
      ctx.moveTo(a.right, py); ctx.lineTo(a.right - 5, py);
    });
    ctx.stroke();
    ctx.restore();
  }
};

panels.forEach(function (p) {
  var L = p.box[0], T = p.box[1], R = p.box[2], B = p.box[3];
  var cLeft = L < 300 ? 0 : 530;
  var yw = L - cLeft;
  var cTop = T - TOPH;
  var w = R + RPAD - cLeft, h = TOPH + (B - T) + XH;

  var cv = document.createElement('canvas');
  cv.className = 'panel';
  cv.width = w; cv.height = h;
  cv.style.left = cLeft + 'px'; cv.style.top = cTop + 'px';
  cv.style.width = w + 'px'; cv.style.height = h + 'px';
  document.body.appendChild(cv);

  var lh = p.size * 1.2;
  var padTop = (TOPH - p.gap) - lh / 2;

  new Chart(cv, {
    type: 'line',
    data: {
      datasets: p.series.map(function (s, i) {
        return {
          label: DELTAS[i],
          data: s.map(function (d) { return { x: d[0], y: d[1] }; }),
          borderColor: COLORS[i],
          borderWidth: 3,
          borderDash: DASHES[i],
          pointRadius: 0,
          tension: 0,
          fill: false,
          order: DRAW_ORDER[i]
        };
      })
    },
    options: {
      responsive: false,
      animation: false,
      events: [],
      layout: { padding: { top: 0, left: 0, right: RPAD, bottom: 0 } },
      plugins: {
        legend: { display: false },
        tooltip: { enabled: false },
        title: {
          display: true, text: p.title, fullSize: false, color: '#000',
          font: { size: p.size, weight: 'normal', family: FONT },
          padding: { top: padTop, bottom: TOPH - lh - padTop }
        }
      },
      scales: {
        x: {
          type: 'linear', min: 1979, max: 2015,
          afterBuildTicks: function (s) { s.ticks = YEAR_TICKS.map(function (v) { return { value: v }; }); },
          afterFit: function (s) { s.height = XH; },
          grid: { display: false, drawTicks: false },
          border: { display: false },
          ticks: { color: '#000', font: { size: 18 }, padding: 11, maxRotation: 0, autoSkip: false,
                   callback: function (v) { return String(v); } }
        },
        y: {
          type: 'linear', min: -0.05, max: 1.05,
          afterBuildTicks: function (s) { s.ticks = PROB_TICKS.map(function (v) { return { value: v }; }); },
          afterFit: function (s) { s.width = yw; },
          grid: { display: false, drawTicks: false },
          border: { display: false },
          ticks: { color: '#000', font: { size: 18 }, padding: 8, autoSkip: false,
                   callback: function (v) { return String(v); } },
          title: { display: p.ylab, text: 'Post. Probability', color: '#000',
                   font: { size: 19, family: FONT }, padding: { top: 9, bottom: 0 } }
        }
      }
    },
    plugins: [framePlugin]
  });
});

// shared legend along the bottom
var LEG_X = [60, 258, 455, 655, 852];
DELTAS.forEach(function (lab, i) {
  var d = document.createElement('div');
  d.className = 'leg';
  d.style.left = LEG_X[i] + 'px';
  var dash = DASHES[i].length ? ' stroke-dasharray="' + DASHES[i].join(' ') + '"' : '';
  d.innerHTML = '<svg width="95" height="10"><line x1="0" y1="5" x2="95" y2="5" stroke="' + COLORS[i] +
    '" stroke-width="3.5"' + dash + '/></svg><span>' + lab + '</span>';
  document.body.appendChild(d);
});
</script>
</body>
</html>
